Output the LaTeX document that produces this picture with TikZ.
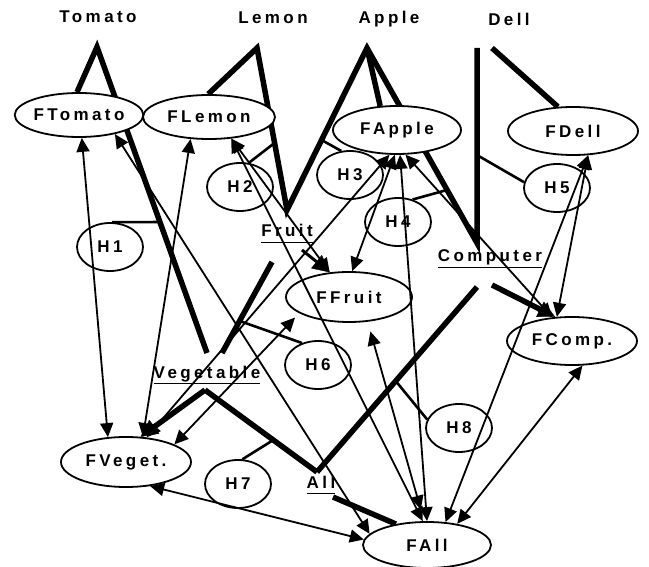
\documentclass[tikz,border=0pt]{standalone}
\usepackage{fontspec}
\setmainfont{Liberation Sans}
\newfontfamily\lab[LetterSpace=20]{Liberation Sans}
\usetikzlibrary{shapes.geometric,arrows.meta,calc}
\pgfdeclarelayer{bg}
\pgfsetlayers{bg,main}
\begin{document}
\begin{tikzpicture}[x=1pt,y=-1pt,
  lbl/.style={font=\lab\fontsize{17}{19}\selectfont\bfseries, inner sep=0pt},
  fnode/.style={ellipse, draw, line width=1.8pt, fill=white, inner sep=0pt, lbl},
  hnode/.style={ellipse, draw, line width=1.8pt, minimum width=66pt, minimum height=48pt, inner sep=0pt, lbl},
  bar/.style={line width=5.5pt, line join=miter},
  midbar/.style={line width=3pt},
  hline/.style={line width=2.6pt},
  uline/.style={line width=1.5pt},
  link/.style={line width=1.8pt, {Triangle[length=14pt,width=13pt]}-{Triangle[length=14pt,width=13pt]}},
  bigtip/.style={-{Triangle[length=17pt,width=17pt,line width=0.4pt]}}
]
\useasboundingbox (0,0) rectangle (649,567);

% junction points of the structure
\coordinate (tA) at (97,47);
\coordinate (lA) at (257,48);
\coordinate (aA) at (367,48);
\coordinate (dA) at (477,48);
\coordinate (dB) at (492,48);
\coordinate (fruitJ) at (287,210);
\coordinate (compJ) at (477,243);
\coordinate (fruitS) at (272,262);
\coordinate (fruitS2) at (302,250);
\coordinate (vegT1) at (207,353);
\coordinate (vegT2) at (222,353);
\coordinate (vegA) at (205,390);
\coordinate (compS) at (477,287);
\coordinate (compS2) at (492,285);
\coordinate (allJ) at (317,472);
\coordinate (allS) at (333,497);

% top labels
\node[lbl] (ttomato) at (98,17) {Tomato};
\node[lbl] (tlemon) at (273,18) {Lemon};
\node[lbl] (tapple) at (389,19) {Apple};
\node[lbl] (tdell) at (509,19) {Dell};

% F nodes
\node[fnode, minimum width=128pt, minimum height=44pt] (ftomato) at (79,115) {FTomato};
\node[fnode, minimum width=132pt, minimum height=44pt] (flemon) at (209,117) {FLemon};
\node[fnode, minimum width=128pt, minimum height=48pt] (fapple) at (397,130) {FApple};
\node[fnode, minimum width=130pt, minimum height=48pt] (fdell) at (573,131) {FDell};
\node[fnode, minimum width=126pt, minimum height=50pt] (ffruit) at (349,297) {FFruit};
\node[fnode, minimum width=130pt, minimum height=48pt] (fcomp) at (572,341) {FComp.};
\node[fnode, minimum width=130pt, minimum height=50pt] (fveget) at (126,462) {FVeget.};
\node[fnode, minimum width=128pt, minimum height=46pt] (fall) at (427,545) {FAll};

% H nodes
\node[hnode] (h1) at (110,247) {H1};
\node[hnode] (h2) at (240,187) {H2};
\node[hnode] (h3) at (350,175) {H3};
\node[hnode] (h4) at (398,222) {H4};
\node[hnode] (h5) at (557,188) {H5};
\node[hnode] (h6) at (318,365) {H6};
\node[hnode] (h7) at (238,484) {H7};
\node[hnode] (h8) at (459,428) {H8};

% underlined labels
\node[lbl, anchor=base] (fruit) at (287,237) {Fruit};
\node[lbl, anchor=base] (computer) at (490,262) {Computer};
\node[lbl, anchor=base] (vegetable) at (207,378) {Vegetable};
\node[lbl, anchor=base] (all) at (321,488) {All};
\foreach \n in {fruit,computer,vegetable,all}
  \draw[uline] ([yshift=-5.5pt]\n.base west) -- ([yshift=-5.5pt]\n.base east);

% thick structure lines (behind the F nodes)
\begin{pgfonlayer}{bg}
\draw[bar] (ftomato.95) -- (tA) -- (vegT1);
\draw[bar] (flemon.92) -- (lA) -- (fruitJ) -- (aA) -- (compJ) -- (dA);
\draw[bar] (aA) -- (fapple.125);
\draw[bar] (dB) -- (fdell.122);
\draw[bar] (fruitS) -- (vegT2);
\draw[bar] (vegA) -- (allJ);
\draw[bar] (compS) -- (allJ);
\draw[bar] (allS) -- (fall.146);
\end{pgfonlayer}

% thick arrows to the F nodes
\draw[bar, bigtip] (vegA) -- (fveget.60);
\draw[bar, bigtip] (compS2) -- (fcomp.125);
\draw[midbar, bigtip] (fruitS2) -- (ffruit.128);

% H links to the structure lines
\draw[hline] (h1.85) -- ($(tA)!0.572!(vegT1)$);
\draw[hline] (h2.70) -- ($(lA)!0.586!(fruitJ)$);
\draw[hline] (h3.110) -- ($(aA)!0.568!(fruitJ)$);
\draw[hline] (h4.57) -- ($(aA)!0.728!(compJ)$);
\draw[hline] (h5.170) -- ($(dA)!0.549!(compJ)$);
\draw[hline] (h6.126) -- ($(fruitS)!0.648!(vegT2)$);
\draw[hline] (h7.80) -- ($(vegA)!0.61!(allJ)$);
\draw[hline] (h8.165) -- ($(compS)!0.508!(allJ)$);

% thin double-headed links between F nodes
\draw[link] (ftomato.-83) -- (fveget.126);
\draw[link] (ftomato.-28) -- (fall.169);
\draw[link] (flemon.-130) -- (fveget.56);
\draw[link] (flemon.-44) -- (ffruit.128);
\draw[link] (flemon.-44) -- (fall.100);
\draw[link, shorten <=10pt, shorten >=12pt] (ffruit.-53) -- (fall.97);
\draw[link] (fapple.-83) -- (fall.90);
\draw[link] (fapple.-95) -- (ffruit.83);
\draw[link] (fapple.-107) -- (fveget.50);
\draw[link] (fapple.-71) -- (fcomp.130);
\draw[link] (fdell.-58) -- (fall.51);
\draw[link] (fdell.-58) -- (fcomp.122);
\draw[link] (fcomp.-67) -- (fall.35);
\draw[link, shorten <=6pt] (ffruit.-162) -- (fveget.20);
\draw[link] (fveget.-45) -- (fall.175);
\end{tikzpicture}
\end{document}
